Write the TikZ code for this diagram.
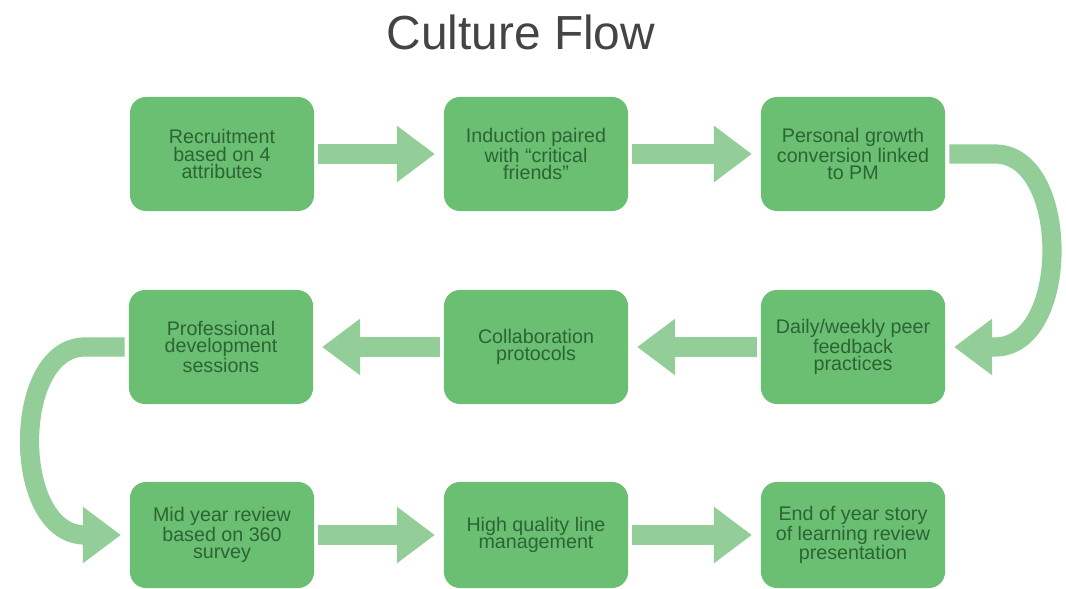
\documentclass[tikz,border=0pt]{standalone}
\usepackage{fontspec}
\setmainfont{Liberation Sans}
\usetikzlibrary{arrows.meta, positioning, calc}
\definecolor{boxgreen}{HTML}{6ABF72}
\definecolor{arrowgreen}{HTML}{93CD98}
\definecolor{textgreen}{HTML}{2C6434}
\definecolor{titlegray}{HTML}{444444}

\begin{document}
\begin{tikzpicture}[x=0.025cm,y=-0.025cm,
		stage/.style={rectangle,rounded corners=0.4cm,fill=boxgreen,minimum width=4.6cm,minimum height=2.85cm,align=center,text=textgreen,font=\fontsize{14}{12.5}\selectfont},
		laststage/.style={stage,minimum height=2.65cm},
		flow/.style={draw=arrowgreen,line width=0.48cm,-{Triangle[width=1.35cm,length=0.95cm]},shorten <=0.1cm,shorten >=0.22cm}]
			\useasboundingbox (0,0) rectangle (1066,589);
			\node[anchor=base,font=\fontsize{34}{40}\selectfont,text=titlegray] (title) at (521,50) {Culture Flow};
			%first row
			\node[stage] (recruit) at (222,154) {Recruitment\\based on 4\\attributes};
			\node[stage] (induct) at (536,154) {Induction paired\\with ``critical\\friends''};
			\node[stage] (growth) at (853,154) {Personal growth\\conversion linked\\to PM};
			%second row
			\node[stage] (develop) at (221,347) {Professional\\development\\sessions};
			\node[stage] (collab) at (536,347) {Collaboration\\protocols};
			\node[stage] (peer) at (853,347) {Daily/weekly peer\\feedback\\practices};
			%third row
			\node[laststage] (review) at (222,535) {Mid year review\\based on 360\\survey};
			\node[laststage] (linemgmt) at (536,535) {High quality line\\management};
			\node[laststage] (story) at (853,535) {End of year story\\of learning review\\presentation};
			\coordinate (r1) at (995,154);
			\coordinate (r2) at (995,347);
			\coordinate (l1) at (85,347);
			\coordinate (l2) at (85,535);
			\draw[flow] (recruit) -- (induct);
			\draw[flow] (induct) -- (growth);
			\draw[flow] (growth.east) -- (r1) .. controls +(76,0) and +(76,0) .. (r2) -- (peer.east);
			\draw[flow] (peer) -- (collab);
			\draw[flow] (collab) -- (develop);
			\draw[flow] (develop.west) -- (l1) .. controls +(-74,0) and +(-74,0) .. (l2) -- (review.west);
			\draw[flow] (review) -- (linemgmt);
			\draw[flow] (linemgmt) -- (story);
\end{tikzpicture}
\end{document}
